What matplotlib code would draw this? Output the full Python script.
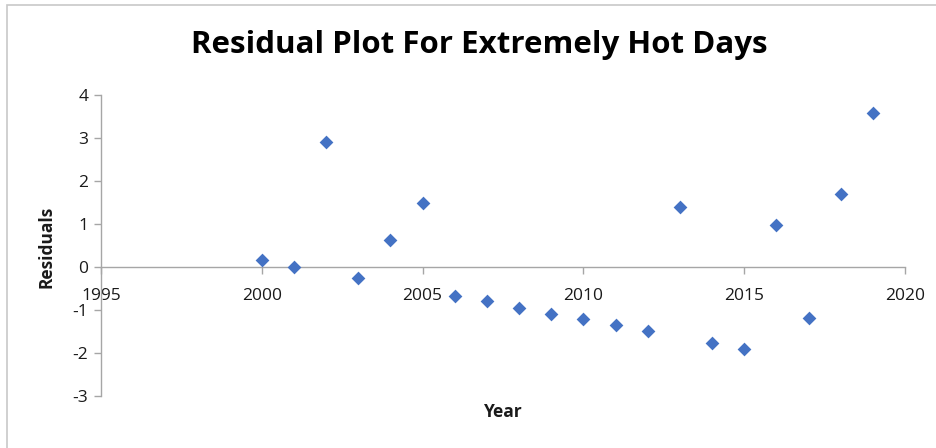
import matplotlib
matplotlib.use("Agg")
import matplotlib.pyplot as plt
from matplotlib.patches import Rectangle

years = [2000, 2001, 2002, 2003, 2004, 2005, 2006, 2007, 2008, 2009,
         2010, 2011, 2012, 2013, 2014, 2015, 2016, 2017, 2018, 2019]
residuals = [0.16, 0.01, 2.90, -0.25, 0.62, 1.48, -0.67, -0.80, -0.95, -1.09,
             -1.22, -1.36, -1.50, 1.39, -1.77, -1.91, 0.97, -1.18, 1.70, 3.57]
x_ticks = [1995, 2000, 2005, 2010, 2015, 2020]
y_ticks = [-3, -2, -1, 0, 1, 2, 3, 4]

plt.rcParams['font.family'] = ['Open Sans', 'DejaVu Sans']
plt.rcParams['axes.unicode_minus'] = False

W, H = 937, 448
fig = plt.figure(figsize=(W / 100, H / 100), dpi=100)
fig.patch.set_facecolor("white")

# outer chart frame
fig.patches.append(Rectangle((7 / W, -0.05), 1.2, 1 - 5 / H + 0.05,
                             transform=fig.transFigure, fill=False,
                             edgecolor="#c8c8c8", linewidth=1.2))

ax = fig.add_axes([101 / W, 1 - 396 / H, (905 - 101) / W, (396 - 95) / H])
ax.scatter(years, residuals, marker="D", s=7 ** 2, color="#4472C4",
           linewidths=0, zorder=3, clip_on=False)

ax.set_xlim(1995, 2020)
ax.set_ylim(-3, 4)
ax.set_xticks(x_ticks)
ax.set_yticks(y_ticks)

ax.spines["top"].set_visible(False)
ax.spines["right"].set_visible(False)
ax.spines["bottom"].set_position(("data", 0))
for s in ("left", "bottom"):
    ax.spines[s].set_color("#a6a6a6")
    ax.spines[s].set_linewidth(1.0)

ax.tick_params(axis="both", colors="#a6a6a6", labelcolor="#1a1a1a",
               length=5, width=1.0, direction="out", labelsize=12.5)
ax.tick_params(axis="x", pad=10)
ax.tick_params(axis="y", pad=4)

fig.text(479 / W, 1 - 45 / H, "Residual Plot For Extremely Hot Days",
         ha="center", va="center", fontsize=22.5, fontweight="bold", color="black")
fig.text(47 / W, 1 - 247 / H, "Residuals", rotation=90, ha="center",
         va="center", fontsize=12.5, fontweight="bold", color="#1a1a1a")
fig.text(503 / W, 1 - 412 / H, "Year", ha="center", va="center",
         fontsize=12.5, fontweight="bold", color="#1a1a1a")

fig.savefig("out.png", dpi=100, facecolor="white")
